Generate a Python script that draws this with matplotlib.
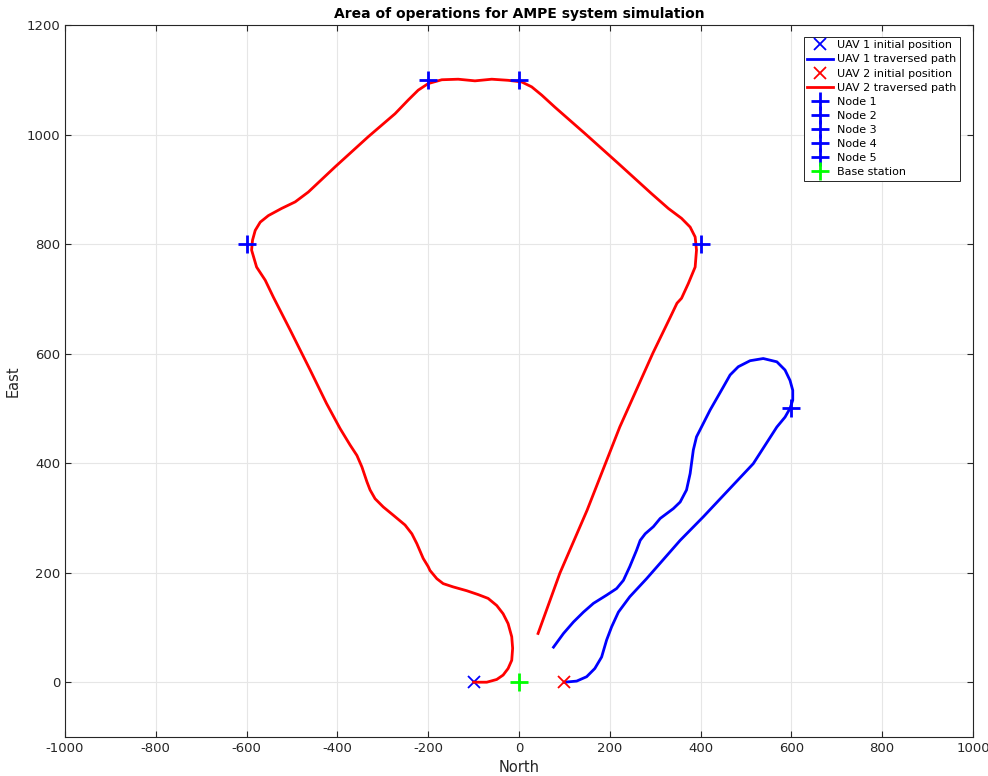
import matplotlib
matplotlib.use('Agg')
import matplotlib.pyplot as plt

plt.rcParams['axes.unicode_minus'] = False

# UAV 1 traversed path (north, east)
uav1_n = [100, 127, 149, 167, 182, 193, 204, 219, 244, 281, 355, 406, 457, 516,
          568, 586, 597, 603, 603, 597, 586, 568, 538, 509, 483, 465, 450, 421,
          391, 384, 377, 369, 355, 340, 311, 296, 278, 267, 259, 244, 230, 215,
          193, 164, 142, 120, 98, 76]
uav1_e = [0, 2, 10, 25, 46, 77, 101, 128, 156, 189, 259, 302, 347, 399,
          466, 484, 500, 515, 533, 551, 570, 585, 591, 587, 576, 561, 539, 497,
          448, 424, 381, 351, 329, 317, 299, 284, 271, 259, 241, 211, 186, 171,
          159, 144, 128, 110, 89, 64]

# UAV 2 traversed path (north, east)
uav2_n = [-100, -71, -49, -35, -24, -16, -14, -16, -24, -35, -49, -68, -90, -115,
          -145, -167, -181, -196, -200, -211, -225, -236, -251, -277, -299, -317,
          -328, -335, -346, -357, -372, -394, -424, -460, -504, -541, -559, -578,
          -589, -587, -581, -570, -552, -523, -493, -464, -405, -332, -273, -244,
          -222, -200, -170, -134, -97, -60, -24, 6, 28, 50, 79, 145, 219, 292,
          329, 358, 377, 388, 391, 388, 373, 358, 348, 333, 295, 222, 150, 90, 42]
uav2_e = [0, 0, 5, 13, 25, 40, 62, 83, 107, 125, 140, 153, 160, 167,
          174, 180, 189, 204, 211, 226, 253, 271, 287, 305, 320, 335,
          351, 366, 393, 414, 433, 463, 509, 570, 643, 703, 734, 758,
          789, 807, 825, 840, 852, 865, 877, 895, 941, 996, 1038, 1063,
          1081, 1093, 1100, 1101, 1098, 1101, 1099, 1096, 1087, 1072, 1050, 1002,
          947, 892, 865, 847, 831, 813, 789, 758, 728, 701, 692, 666, 601, 466,
          314, 199, 89]

uav1_start = (-100, 0)
uav2_start = (100, 0)
nodes_n = [-600, -200, 0, 400, 600]
nodes_e = [800, 1100, 1100, 800, 500]
base = (0, 0)

fig = plt.figure(figsize=(9.88, 7.76), dpi=100)
ax = fig.add_axes([0.0658, 0.0503, 0.919, 0.9175])

ax.plot(uav1_start[0], uav1_start[1], 'x', color='blue', ms=9, mew=1.3,
        label='UAV 1 initial position')
ax.plot(uav1_n, uav1_e, '-', color='blue', lw=2, solid_joinstyle='round',
        label='UAV 1 traversed path')
ax.plot(uav2_start[0], uav2_start[1], 'x', color='red', ms=9, mew=1.3,
        label='UAV 2 initial position')
ax.plot(uav2_n, uav2_e, '-', color='red', lw=2, solid_joinstyle='round',
        label='UAV 2 traversed path')
for i in range(len(nodes_n)):
    ax.plot(nodes_n[i], nodes_e[i], '+', color='blue', ms=13, mew=2,
            label='Node %d' % (i + 1))
ax.plot(base[0], base[1], '+', color='#00ff00', ms=13, mew=2, label='Base station')

ax.set_xlim(-1000, 1000)
ax.set_ylim(-100, 1200)
ax.set_xticks(range(-1000, 1001, 200))
ax.set_yticks(range(0, 1201, 200))
ax.grid(True, color='#e6e6e6', lw=0.8)
ax.set_axisbelow(True)
ax.tick_params(direction='in', top=True, right=True, labelsize=9.5,
               colors='#262626', length=4)
for s in ax.spines.values():
    s.set_color('#262626')
    s.set_linewidth(0.8)

ax.set_title('Area of operations for AMPE system simulation', fontsize=10,
             fontweight='bold', pad=5)
ax.set_xlabel('North', fontsize=10.5, color='#262626')
ax.set_ylabel('East', fontsize=10.5, color='#262626')

leg = ax.legend(loc='upper right', fontsize=8, handlelength=2.3,
                labelspacing=0.37, borderpad=0.3, handletextpad=0.4,
                fancybox=False, edgecolor='#262626', framealpha=1,
                bbox_to_anchor=(0.992, 0.991))
leg.get_frame().set_linewidth(0.7)

fig.savefig('out.png', dpi=100)
